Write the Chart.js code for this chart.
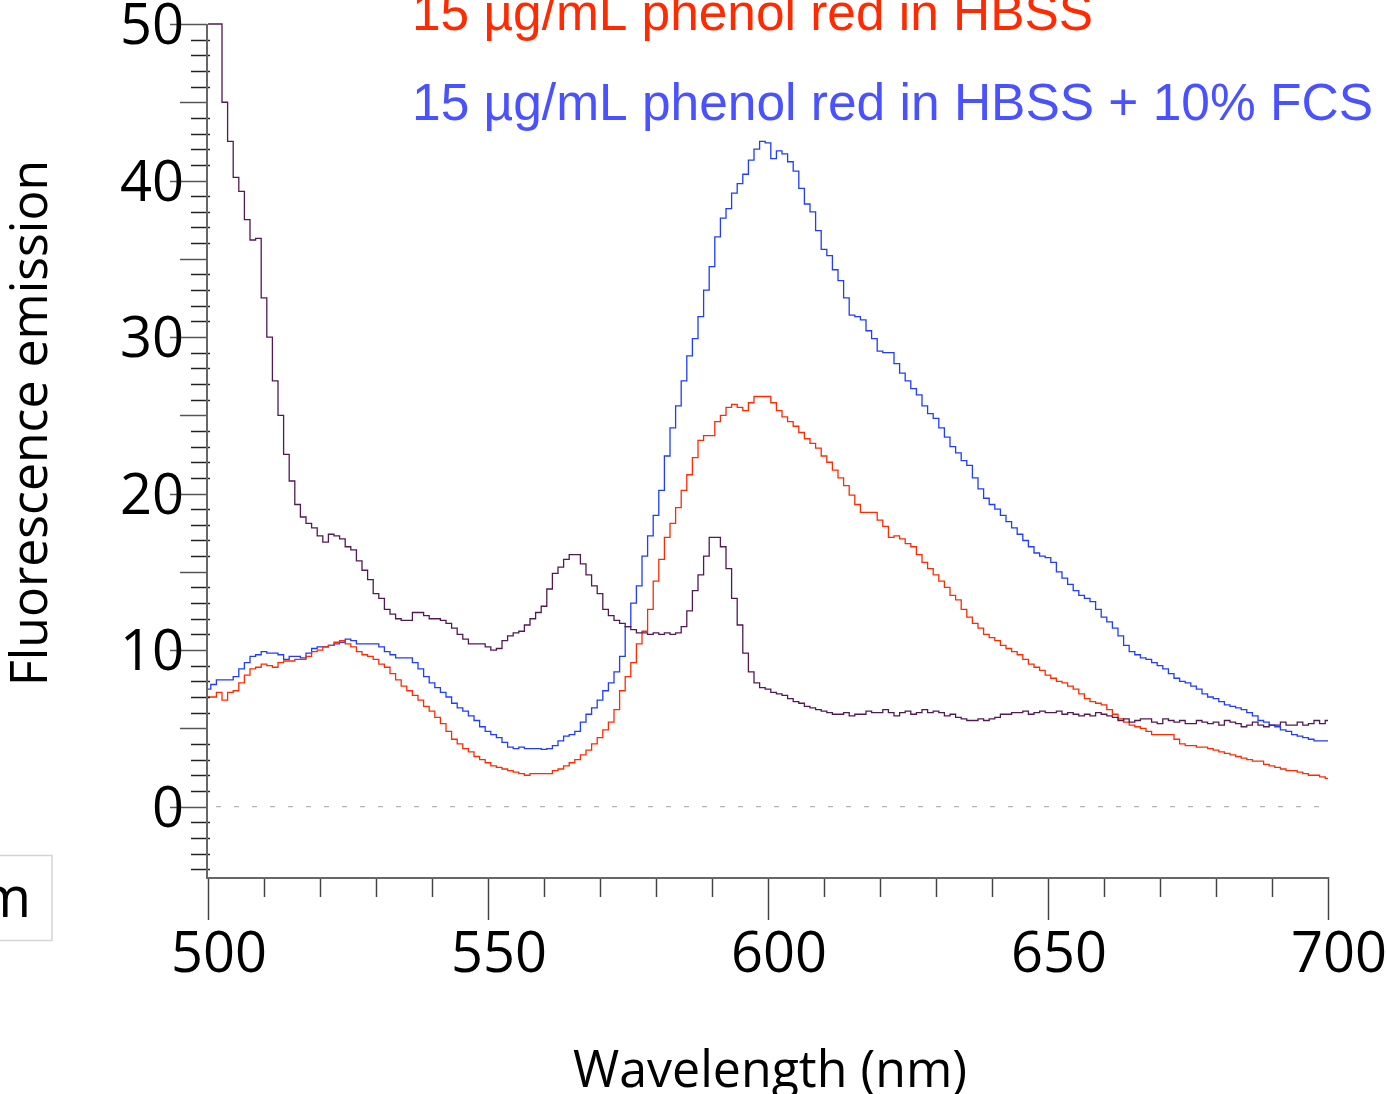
<!DOCTYPE html>
<html>
<head>
<meta charset="utf-8">
<script src="https://cdn.jsdelivr.net/npm/chart.js"></script>
<style>
  html, body { margin: 0; padding: 0; background: #fff; }
  #wrap { position: relative; width: 1387px; height: 1094px; overflow: hidden; }
</style>
</head>
<body>
<div id="wrap"><canvas id="spectrum"></canvas></div>
<script>
// wavelength grid (nm)
const wavelengths = [
  500,501,502,503,504,505,506,507,508,509,
  510,511,512,513,514,515,516,517,518,519,
  520,521,522,523,524,525,526,527,528,529,
  530,531,532,533,534,535,536,537,538,539,
  540,541,542,543,544,545,546,547,548,549,
  550,551,552,553,554,555,556,557,558,559,
  560,561,562,563,564,565,566,567,568,569,
  570,571,572,573,574,575,576,577,578,579,
  580,581,582,583,584,585,586,587,588,589,
  590,591,592,593,594,595,596,597,598,599,
  600,601,602,603,604,605,606,607,608,609,
  610,611,612,613,614,615,616,617,618,619,
  620,621,622,623,624,625,626,627,628,629,
  630,631,632,633,634,635,636,637,638,639,
  640,641,642,643,644,645,646,647,648,649,
  650,651,652,653,654,655,656,657,658,659,
  660,661,662,663,664,665,666,667,668,669,
  670,671,672,673,674,675,676,677,678,679,
  680,681,682,683,684,685,686,687,688,689,
  690,691,692,693,694,695,696,697,698,699,
  700
];

// dark purple trace (background)
const backgroundEmission = [
  50,50,50,45,42.5,40.2,39.3,37.5,36.2,36.3,
  32.5,30.0,27.2,25.0,22.5,20.8,19.3,18.5,18.1,17.8,
  17.3,16.9,17.4,17.3,17.1,16.6,16.4,15.7,15.1,14.5,
  13.6,13.3,12.6,12.3,12.0,11.9,11.9,12.4,12.4,12.2,
  12.0,12.0,11.9,11.7,11.4,11.0,10.7,10.4,10.4,10.4,
  10.2,10.0,10.1,10.6,10.9,11.1,11.2,11.6,12.0,12.4,
  12.8,13.9,14.9,15.3,15.8,16.1,16.1,15.5,14.8,14.1,
  13.6,12.6,12.2,11.9,11.7,11.5,11.3,11.1,11.1,11.0,
  11.1,11.0,11.1,11.0,11.1,11.5,12.5,13.8,14.8,16.0,
  17.2,17.2,16.6,15.2,13.3,11.6,9.8,8.6,7.9,7.6,
  7.5,7.3,7.2,7.1,6.9,6.7,6.6,6.4,6.3,6.2,
  6.1,6.0,5.9,5.9,6.0,5.8,5.9,5.9,6.1,6.0,
  6.0,6.2,6.0,5.8,6.0,6.1,5.9,6.0,6.2,6.0,
  6.1,6.0,5.8,5.9,5.7,5.6,5.5,5.5,5.6,5.5,
  5.6,5.7,5.9,5.9,6.0,6.0,6.1,5.9,6.0,6.1,
  6.0,6.0,6.1,5.9,6.0,5.9,5.8,5.9,5.8,6.0,
  5.9,5.8,5.7,5.5,5.6,5.4,5.5,5.6,5.6,5.4,
  5.3,5.6,5.5,5.4,5.5,5.3,5.3,5.5,5.4,5.3,
  5.4,5.2,5.5,5.4,5.3,5.1,5.2,5.4,5.2,5.1,
  5.2,5.2,5.4,5.2,5.2,5.4,5.2,5.3,5.5,5.3,
  5.5
];

// 15 ug/mL phenol red in HBSS
const phenolHBSS = [
  7.0,7.0,7.3,6.8,7.3,7.4,7.9,8.4,8.8,8.9,
  9.1,9.0,8.9,9.2,9.3,9.3,9.4,9.4,9.6,9.9,
  10.0,10.2,10.3,10.5,10.6,10.4,10.2,9.9,9.7,9.6,
  9.4,9.1,8.9,8.5,8.1,7.7,7.4,7.1,6.8,6.4,
  6.1,5.7,5.3,4.8,4.3,4.0,3.7,3.5,3.2,3.0,
  2.8,2.6,2.5,2.4,2.3,2.2,2.1,2.0,2.1,2.1,
  2.1,2.1,2.3,2.4,2.6,2.8,3.0,3.3,3.6,4.0,
  4.4,4.9,5.4,6.2,7.4,8.3,9.2,10.4,11.2,12.6,
  14.4,15.8,17.2,18.1,19.1,20.2,21.2,22.3,23.4,23.7,
  23.7,24.6,25.0,25.5,25.7,25.5,25.3,25.8,26.2,26.2,
  26.2,25.8,25.3,24.9,24.6,24.3,23.9,23.5,23.2,22.9,
  22.4,22.0,21.5,21.0,20.5,19.9,19.3,18.8,18.8,18.8,
  18.3,17.9,17.2,17.3,17.1,16.8,16.6,16.1,15.6,15.2,
  14.8,14.4,14.0,13.5,13.2,12.6,12.1,11.7,11.4,11.0,
  10.8,10.6,10.3,10.1,9.9,9.7,9.4,9.1,8.9,8.7,
  8.4,8.2,8.0,7.9,7.7,7.5,7.2,6.9,6.7,6.6,
  6.5,6.2,5.9,5.6,5.4,5.2,5.1,5.0,4.8,4.6,
  4.6,4.6,4.6,4.3,4.0,3.9,3.9,3.8,3.8,3.7,
  3.6,3.5,3.4,3.3,3.2,3.1,3.0,2.9,2.9,2.7,
  2.6,2.5,2.4,2.3,2.3,2.2,2.1,2.0,2.0,1.9,
  1.8
];

// 15 ug/mL phenol red in HBSS + 10% FCS
const phenolHBSSFCS = [
  7.5,7.8,8.1,8.1,8.1,8.3,8.8,9.2,9.6,9.7,
  9.9,9.8,9.8,9.7,9.4,9.6,9.6,9.5,9.8,10.1,
  10.2,10.2,10.3,10.4,10.5,10.7,10.6,10.4,10.4,10.4,
  10.4,10.2,9.9,9.7,9.5,9.5,9.5,9.2,8.8,8.3,
  7.9,7.6,7.3,7.0,6.6,6.3,6.1,5.8,5.5,5.1,
  4.8,4.6,4.4,4.1,3.8,3.7,3.8,3.7,3.7,3.7,
  3.65,3.7,3.9,4.2,4.5,4.6,4.8,5.4,5.9,6.3,
  6.8,7.4,7.9,8.6,9.6,11.5,13.0,14.1,16.0,17.3,
  18.6,20.2,22.4,24.2,25.6,27.2,28.8,29.9,31.3,33.0,
  34.5,36.4,37.6,38.2,39.2,39.8,40.4,41.3,42.0,42.5,
  42.4,41.4,41.9,41.7,41.2,40.6,39.5,38.5,38.0,36.8,
  35.6,35.2,34.3,33.6,32.5,31.4,31.3,31.1,30.4,29.9,
  29.1,29.0,29.0,28.3,27.7,27.2,26.7,26.3,25.6,25.1,
  24.8,24.2,23.6,23.0,22.6,22.1,21.8,21.0,20.3,19.7,
  19.3,19.0,18.6,18.2,17.8,17.4,17.0,16.6,16.2,16.0,
  15.9,15.6,15.0,14.6,14.2,13.8,13.5,13.3,13.1,12.6,
  12.1,11.8,11.4,10.9,10.3,9.9,9.7,9.5,9.4,9.2,
  9.0,8.8,8.5,8.2,8.0,7.9,7.7,7.5,7.2,7.0,
  6.9,6.7,6.5,6.4,6.3,6.2,6.0,5.8,5.5,5.4,
  5.2,5.1,4.9,4.8,4.6,4.5,4.4,4.3,4.2,4.2,
  4.2
];

const xTickLabels = [500, 550, 600, 650, 700];
const yTickLabels = [0, 10, 20, 30, 40, 50];
const legendTexts = ["15 µg/mL phenol red in HBSS", "15 µg/mL phenol red in HBSS + 10% FCS"];

function toPoints(values) {
  return wavelengths.map((w, i) => ({ x: w, y: values[i] }));
}

// fits a line of text to a measured width
function fitText(ctx, text, x, y, width) {
  const w = ctx.measureText(text).width;
  ctx.save();
  ctx.translate(x, y);
  ctx.scale(width / w, 1);
  ctx.fillText(text, 0, 0);
  ctx.restore();
}

const axesPlugin = {
  id: "axesPlugin",
  beforeDatasetsDraw(chart) {
    const ctx = chart.ctx;
    const xs = chart.scales.x, ys = chart.scales.y;
    const y0 = ys.getPixelForValue(0);
    ctx.save();
    ctx.strokeStyle = "#b4b4b4";
    ctx.lineWidth = 1.2;
    ctx.setLineDash([5, 13]);
    ctx.beginPath();
    ctx.moveTo(xs.getPixelForValue(500) + 8, y0);
    ctx.lineTo(xs.getPixelForValue(700), y0);
    ctx.stroke();
    ctx.restore();
  },
  afterDatasetsDraw(chart) {
    const ctx = chart.ctx;
    const xs = chart.scales.x, ys = chart.scales.y;
    const area = chart.chartArea;
    const axisX = area.left - 1;
    const axisY = area.bottom;
    ctx.save();

    // y ticks
    ctx.lineWidth = 1.5;
    for (let v = -4; v <= 50; v++) {
      const py = Math.round(ys.getPixelForValue(v)) + 0.5;
      let x1 = axisX - 16, x2 = axisX + 3;
      ctx.strokeStyle = "#222";
      if (v % 10 === 0) { x1 = axisX - 37; x2 = axisX; ctx.strokeStyle = "#555"; }
      else if (v % 5 === 0) { x1 = axisX - 27; x2 = axisX; ctx.strokeStyle = "#555"; }
      ctx.beginPath();
      ctx.moveTo(x1, py);
      ctx.lineTo(x2, py);
      ctx.stroke();
    }

    // x ticks
    for (let w = 500; w <= 700; w += 10) {
      const px = Math.round(xs.getPixelForValue(w)) + 0.5;
      const len = (w % 50 === 0) ? 43 : 20;
      ctx.strokeStyle = "#444";
      ctx.beginPath();
      ctx.moveTo(px, axisY);
      ctx.lineTo(px, axisY + len);
      ctx.stroke();
    }

    // axis lines
    ctx.strokeStyle = "#666";
    ctx.lineWidth = 2;
    ctx.beginPath();
    ctx.moveTo(axisX, area.top);
    ctx.lineTo(axisX, axisY + 1);
    ctx.lineTo(area.right + 1, axisY + 1);
    ctx.stroke();

    // tick labels
    ctx.fillStyle = "#000";
    ctx.font = "56px 'Open Sans'";
    ctx.textBaseline = "alphabetic";
    ctx.textAlign = "right";
    yTickLabels.forEach(v => {
      ctx.fillText(String(v), 184, ys.getPixelForValue(v) + 20);
    });
    ctx.textAlign = "center";
    xTickLabels.forEach(w => {
      ctx.fillText(String(w), xs.getPixelForValue(w) + 11, 972);
    });

    // axis titles
    ctx.font = "52px 'Open Sans'";
    ctx.textAlign = "left";
    fitText(ctx, "Wavelength (nm)", 573, 1087, 394);
    ctx.save();
    ctx.translate(47, 686);
    ctx.rotate(-Math.PI / 2);
    fitText(ctx, "Fluorescence emission", 0, 0, 526);
    ctx.restore();

    // series labels
    ctx.font = "52px 'Liberation Sans'";
    ctx.fillStyle = "#ff2a00";
    fitText(ctx, legendTexts[0], 412, 30, 681);
    ctx.fillStyle = "#4a52ff";
    fitText(ctx, legendTexts[1], 412, 120, 961);

    // clipped legend box on the left
    ctx.strokeStyle = "#d4d4d4";
    ctx.lineWidth = 1.5;
    ctx.strokeRect(-5, 855.5, 57, 85);
    ctx.fillStyle = "#000";
    ctx.font = "56px 'Open Sans'";
    ctx.textAlign = "right";
    ctx.fillText("m", 31, 917);

    ctx.restore();
  }
};

const ctx = document.getElementById("spectrum").getContext("2d");
new Chart(ctx, {
  type: "line",
  data: {
    datasets: [
      {
        label: "background",
        data: toPoints(backgroundEmission),
        borderColor: "#521a52",
        borderWidth: 1.3,
        pointRadius: 0,
        stepped: "middle",
        fill: false,
        clip: 2
      },
      {
        label: legendTexts[0],
        data: toPoints(phenolHBSS),
        borderColor: "#ff2a00",
        borderWidth: 1.3,
        pointRadius: 0,
        stepped: "middle",
        fill: false,
        clip: 2
      },
      {
        label: legendTexts[1],
        data: toPoints(phenolHBSSFCS),
        borderColor: "#1f3cff",
        borderWidth: 1.3,
        pointRadius: 0,
        stepped: "middle",
        fill: false,
        clip: 2
      }
    ]
  },
  options: {
    responsive: true,
    maintainAspectRatio: false,
    animation: false,
    events: [],
    layout: {
      padding: { left: 208, right: 59, top: 24, bottom: 217 }
    },
    scales: {
      x: { type: "linear", min: 500, max: 700, display: false },
      y: { type: "linear", min: -4.5, max: 50, display: false }
    },
    plugins: {
      legend: { display: false },
      tooltip: { enabled: false },
      title: { display: false }
    }
  },
  plugins: [axesPlugin]
});
</script>
</body>
</html>
